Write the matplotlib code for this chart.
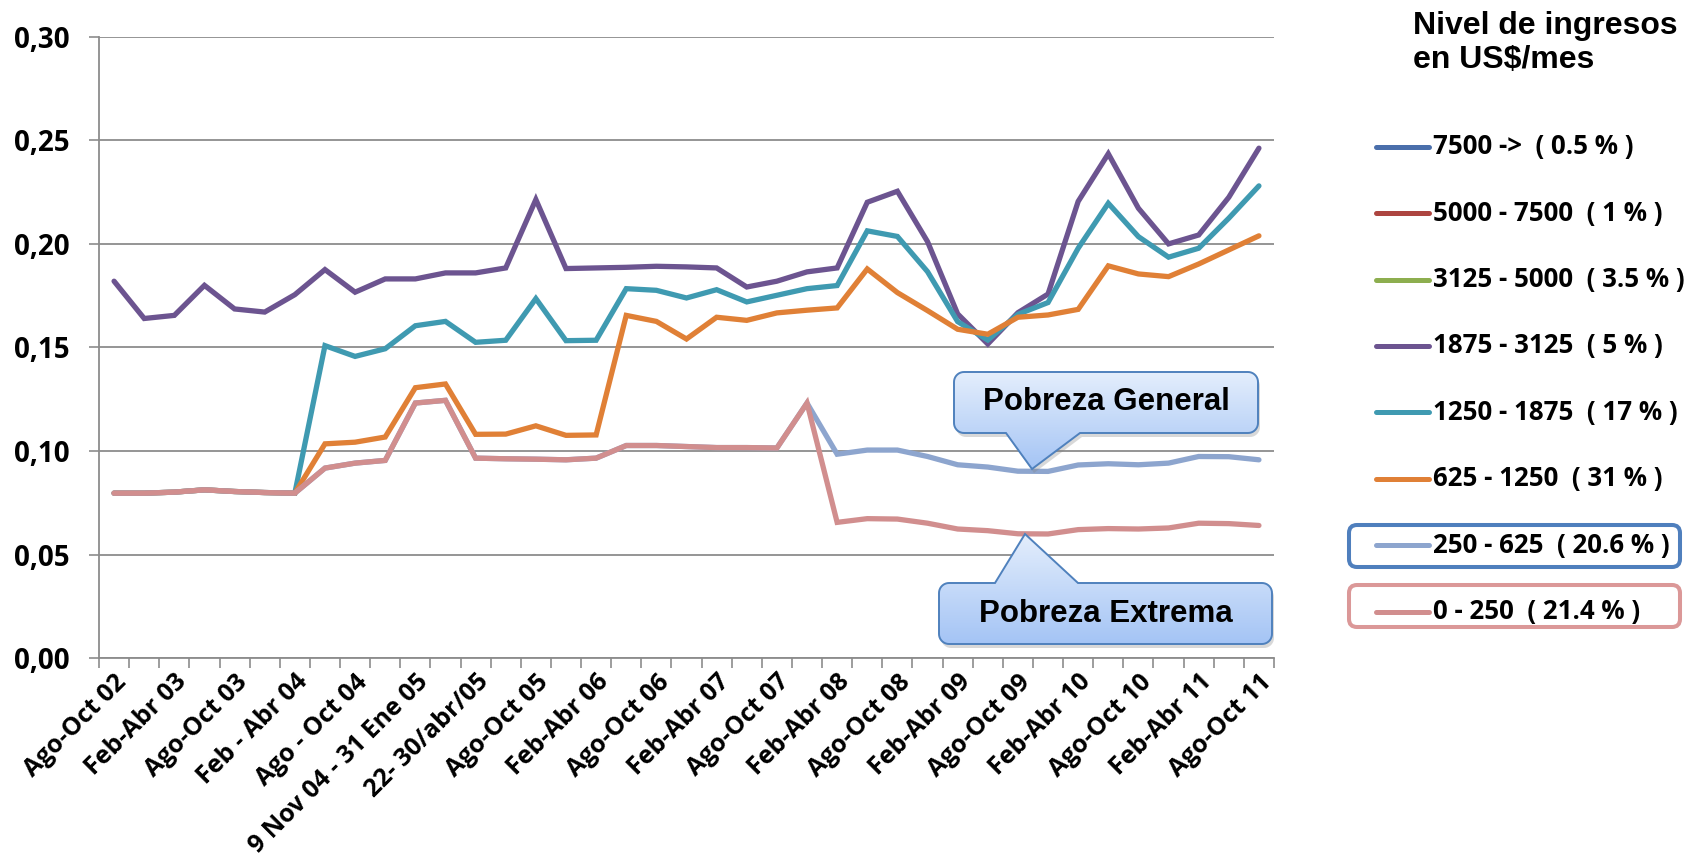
import numpy as np
import matplotlib
matplotlib.use("Agg")
import matplotlib.pyplot as plt
from matplotlib.patches import Polygon, FancyBboxPatch
from matplotlib.colors import LinearSegmentedColormap
from matplotlib.ticker import FuncFormatter, NullFormatter

plt.rcParams['font.family'] = ['Open Sans', 'DejaVu Sans']
plt.rcParams['font.weight'] = 'bold'

# survey periods, only every other one is labelled on the axis
n_periods = 39
tick_labels = ['Ago-Oct 02', 'Feb-Abr 03', 'Ago-Oct 03', 'Feb - Abr 04', 'Ago - Oct 04',
               '9 Nov 04 - 31 Ene 05', '22- 30/abr/05', 'Ago-Oct 05', 'Feb-Abr 06',
               'Ago-Oct 06', 'Feb-Abr 07', 'Ago-Oct 07', 'Feb-Abr 08', 'Ago-Oct 08',
               'Feb-Abr 09', 'Ago-Oct 09', 'Feb-Abr 10', 'Ago-Oct 10', 'Feb-Abr 11',
               'Ago-Oct 11']
label_pos = list(range(0, n_periods, 2))

# income bands (series) - the three top bands have no values on the chart
s_7500 = []
s_5000_7500 = []
s_3125_5000 = []
s_1875_3125 = [0.182, 0.164, 0.1655, 0.180, 0.1686, 0.1671, 0.1755, 0.1876, 0.1767, 0.1831,
               0.1831, 0.186, 0.186, 0.1884, 0.2214, 0.1881, 0.1884, 0.1887, 0.1892, 0.1889,
               0.1884, 0.1792, 0.182, 0.1865, 0.1884, 0.2201, 0.2254, 0.2011, 0.1662, 0.1517,
               0.1668, 0.1758, 0.2205, 0.2435, 0.2172, 0.200, 0.2043, 0.2225, 0.2462]
s_1250_1875 = [0.0797, 0.0797, 0.0802, 0.0813, 0.0805, 0.0800, 0.0797, 0.1509, 0.1457, 0.1494,
               0.1605, 0.1626, 0.1525, 0.1535, 0.1736, 0.1533, 0.1535, 0.1784, 0.1776, 0.1739,
               0.1779, 0.172, 0.1752, 0.1784, 0.1799, 0.2063, 0.2036, 0.1866, 0.1625, 0.1536,
               0.166, 0.1717, 0.1979, 0.2196, 0.2035, 0.1936, 0.1979, 0.2124, 0.228]
s_625_1250 = [0.0797, 0.0797, 0.0802, 0.0813, 0.0805, 0.0800, 0.0797, 0.1035, 0.1043, 0.1068,
              0.1306, 0.1324, 0.1081, 0.1082, 0.1122, 0.1076, 0.1078, 0.1655, 0.1626, 0.1541,
              0.1646, 0.1631, 0.1667, 0.168, 0.1691, 0.1879, 0.1765, 0.1678, 0.1588, 0.1564,
              0.1646, 0.1657, 0.1684, 0.1894, 0.1855, 0.1842, 0.1903, 0.1971, 0.2039]
s_250_625 = [0.0797, 0.0797, 0.0802, 0.0813, 0.0805, 0.0800, 0.0797, 0.0918, 0.0942, 0.0955,
             0.1232, 0.1245, 0.0966, 0.0963, 0.0961, 0.0958, 0.0966, 0.1027, 0.1027, 0.1022,
             0.1017, 0.1017, 0.1015, 0.1232, 0.0985, 0.1005, 0.1005, 0.0974, 0.0934, 0.0923,
             0.0903, 0.0902, 0.0933, 0.0939, 0.0934, 0.0942, 0.0974, 0.0973, 0.0958]
s_0_250 = [0.0797, 0.0797, 0.0802, 0.0813, 0.0805, 0.0800, 0.0797, 0.0918, 0.0942, 0.0955,
           0.1232, 0.1245, 0.0966, 0.0963, 0.0961, 0.0958, 0.0966, 0.1027, 0.1027, 0.1022,
           0.1017, 0.1017, 0.1015, 0.1232, 0.0656, 0.0674, 0.0672, 0.0652, 0.0624, 0.0616,
           0.0601, 0.0600, 0.0621, 0.0626, 0.0624, 0.0629, 0.0652, 0.0650, 0.0641]

series = [s_7500, s_5000_7500, s_3125_5000, s_1875_3125, s_1250_1875, s_625_1250,
          s_250_625, s_0_250]
names = ['7500 ->  ( 0.5 % )', '5000 - 7500  ( 1 % )', '3125 - 5000  ( 3.5 % )',
         '1875 - 3125  ( 5 % )', '1250 - 1875  ( 17 % )', '625 - 1250  ( 31 % )',
         '250 - 625  ( 20.6 % )', '0 - 250  ( 21.4 % )']
colors = ['#4A6FAB', '#AD4540', '#8DAE4F', '#6C5490', '#3F9AB1', '#E08036',
          '#8DA5CE', '#D18E8E']

W, H = 1688, 866
fig = plt.figure(figsize=(W / 100, H / 100), dpi=100)
ax = fig.add_axes([99 / W, 1 - 658.3 / H, 1175 / W, 621.6 / H])

x = np.arange(n_periods)
for vals, c in zip(series, colors):
    ax.plot(x[:len(vals)], vals, color=c, lw=3.8, solid_joinstyle='miter',
            solid_capstyle='round')

grey = '#8C8C8C'
ax.set_xlim(-0.5, n_periods - 0.5)
ax.set_ylim(0, 0.30)
ax.set_yticks(np.arange(0, 0.301, 0.05))
ax.yaxis.set_major_formatter(FuncFormatter(lambda v, _: f'{v:.2f}'.replace('.', ',')))
ax.yaxis.grid(True, color=grey, lw=1.3)
ax.set_axisbelow(True)
ax.tick_params(axis='y', length=7.2, width=1.2, color=grey, pad=14, labelsize=20)

ax.set_xticks(np.arange(-0.5, n_periods, 1))
ax.xaxis.set_major_formatter(NullFormatter())
ax.set_xticks(label_pos, minor=True)
ax.set_xticklabels(tick_labels, minor=True, rotation=45, ha='right',
                   rotation_mode='anchor')
ax.tick_params(axis='x', which='major', length=7.2, width=1.2, color=grey)
ax.tick_params(axis='x', which='minor', length=0, pad=8, labelsize=18)

for side in ['top', 'right']:
    ax.spines[side].set_visible(False)
for side in ['left', 'bottom']:
    ax.spines[side].set_color(grey)
    ax.spines[side].set_linewidth(1.3)

# overlay in pixel coordinates for legend, title and call-outs
ov = fig.add_axes([0, 0, 1, 1], zorder=5)
ov.set_xlim(0, W)
ov.set_ylim(H, 0)
ov.axis('off')

ov.text(1413, 43, 'Nivel de ingresos\nen US$/mes', family='Liberation Sans',
        fontsize=23, weight='bold', ha='left', va='center', linespacing=1.15)

for k, (nm, c) in enumerate(zip(names, colors)):
    yy = 146.7 + 66.4 * k
    ov.plot([1376, 1429], [yy, yy], color=c, lw=3.6, solid_capstyle='round')
    ov.text(1433, yy, nm, fontsize=18.6, weight='bold', ha='left', va='center')

ov.add_patch(FancyBboxPatch((1349, 525), 331, 42, boxstyle='round,pad=0,rounding_size=8',
                            fc='none', ec='#4F7FBD', lw=2.9))
ov.add_patch(FancyBboxPatch((1349, 585), 331, 42, boxstyle='round,pad=0,rounding_size=8',
                            fc='none', ec='#DB9898', lw=2.9))

bubble_cmap = LinearSegmentedColormap.from_list('bub', ['#E4EEFC', '#A4C4F5'])


def bubble(x0, y0, x1, y1, b0, b1, tip, side, text, r=10):
    th = np.linspace(0, np.pi / 2, 10)
    tl = [(x0 + r - r * np.cos(t), y0 + r - r * np.sin(t)) for t in th]
    tr = [(x1 - r + r * np.sin(t), y0 + r - r * np.cos(t)) for t in th]
    br = [(x1 - r + r * np.cos(t), y1 - r + r * np.sin(t)) for t in th]
    bl = [(x0 + r - r * np.sin(t), y1 - r + r * np.cos(t)) for t in th]
    if side == 'top':
        pts = tl + [(b0, y0), tip, (b1, y0)] + tr + br + bl
    else:
        pts = tl + tr + br + [(b1, y1), tip, (b0, y1)] + bl
    pts = np.array(pts)
    shadow = Polygon(pts + [2, 4], closed=True, fc='#808080', ec='none', alpha=0.3)
    ov.add_patch(shadow)
    shape = Polygon(pts, closed=True, fc='none', ec='#4F81BD', lw=1.4)
    ov.add_patch(shape)
    top, bot = pts[:, 1].min(), pts[:, 1].max()
    im = ov.imshow(np.linspace(0, 1, 256).reshape(-1, 1), cmap=bubble_cmap, aspect='auto',
                   extent=(x0, x1, bot, top), origin='upper', zorder=1)
    im.set_clip_path(shape)
    shape.set_zorder(2)
    ov.text((x0 + x1) / 2, (y0 + y1) / 2, text, family='Liberation Sans', fontsize=22.5,
            weight='bold', ha='center', va='center', zorder=3)


bubble(954, 372, 1258, 433, 1006, 1080, (1032, 469), 'bottom', 'Pobreza General')
bubble(939, 583, 1272, 644, 995, 1078, (1025, 534), 'top', 'Pobreza Extrema')
ov.set_xlim(0, W)
ov.set_ylim(H, 0)

fig.savefig('out.png', dpi=100)
